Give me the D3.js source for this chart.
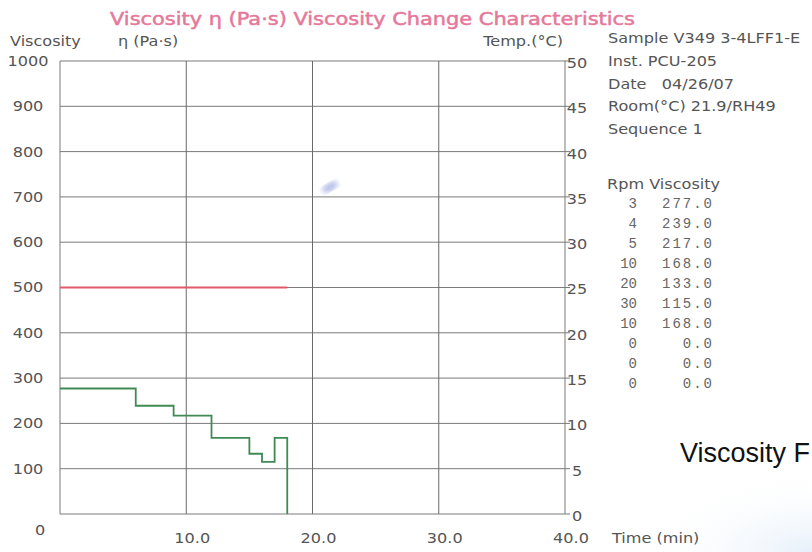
<!DOCTYPE html>
<html>
<head>
<meta charset="utf-8">
<script src="https://cdn.jsdelivr.net/npm/d3@7"></script>
<style>
  html, body { margin: 0; padding: 0; background: #fff; }
  svg { display: block; }
</style>
</head>
<body>
<svg id="chart" width="812" height="552"></svg>
<script>
// ---- data ----
const stepTimes = [0, 6, 9, 12, 15, 16, 17, 18];
const stepViscosity = [277, 239, 217, 168, 133, 115, 168, 0];
const tempTimes = [0, 18];
const tempValues = [25, 25];
const rpmList = [3, 4, 5, 10, 20, 30, 10, 0, 0, 0];
const viscList = [277.0, 239.0, 217.0, 168.0, 133.0, 115.0, 168.0, 0.0, 0.0, 0.0];
const xTicks = [10, 20, 30, 40];
const yTicks = [100, 200, 300, 400, 500, 600, 700, 800, 900, 1000];
const tTicks = [0, 5, 10, 15, 20, 25, 30, 35, 40, 45, 50];
const infoLines = ["Sample V349 3-4LFF1-E", "Inst. PCU-205", "Date   04/26/07", "Room(\u00B0C) 21.9/RH49", "Sequence 1"];

const svg = d3.select("#chart");
const L = 60, R = 565, T = 61, B = 514;
const x = d3.scaleLinear().domain([0, 40]).range([L, R]);
const y = d3.scaleLinear().domain([0, 1000]).range([B, T]);
const yT = d3.scaleLinear().domain([0, 50]).range([B, T]);

const gray = "#7a7a7a";
const textGray = "#555";
const font = "'DejaVu Sans', Verdana, sans-serif";
const SX = 1.15;

function txt(parent, px, py, s, o) {
  o = o || {};
  const g = parent.append("g").attr("transform", `translate(${px},${py}) scale(${o.sx || SX},1)`);
  const t = g.append("text").attr("x", 0).attr("y", 0).attr("dy", "0.35em")
    .attr("text-anchor", o.anchor || "start")
    .attr("font-family", o.family || font)
    .attr("font-size", o.size || 14)
    .attr("font-weight", o.weight || "normal")
    .attr("fill", o.fill || textGray)
    .style("white-space", "pre")
    .text(s);
  if (o.ls) t.attr("letter-spacing", o.ls);
  if (o.len) t.attr("textLength", o.len).attr("lengthAdjust", "spacingAndGlyphs");
  if (o.stroke) t.attr("stroke", o.fill).attr("stroke-width", o.stroke);
  return t;
}

// decorative scan tint
const defs = svg.append("defs");
const rg = defs.append("radialGradient").attr("id", "tint").attr("cx", "1").attr("cy", "1").attr("r", "1");
rg.append("stop").attr("offset", "0").attr("stop-color", "#e6f0fa").attr("stop-opacity", 1);
rg.append("stop").attr("offset", "1").attr("stop-color", "#ffffff").attr("stop-opacity", 0);
svg.append("rect").attr("x", 640).attr("y", 470).attr("width", 172).attr("height", 82).attr("fill", "url(#tint)");
defs.append("filter").attr("id", "blur").append("feGaussianBlur").attr("stdDeviation", 2.5);
svg.append("ellipse").attr("cx", 330).attr("cy", 187).attr("rx", 9).attr("ry", 4)
  .attr("transform", "rotate(-30,330,187)")
  .attr("fill", "#6c7fd0").attr("opacity", 0.5).attr("filter", "url(#blur)");

// grid
const g = svg.append("g");
g.selectAll("line.h").data(yTicks).join("line")
  .attr("x1", L).attr("x2", R + 5)
  .attr("y1", d => y(d)).attr("y2", d => y(d))
  .attr("stroke", gray).attr("stroke-width", 1);
g.selectAll("line.v").data(xTicks.slice(0, 3)).join("line")
  .attr("x1", d => x(d)).attr("x2", d => x(d))
  .attr("y1", T).attr("y2", B)
  .attr("stroke", "#6a6a6a").attr("stroke-width", 1);
g.append("line").attr("x1", L).attr("x2", L).attr("y1", T).attr("y2", B).attr("stroke", gray);
g.append("line").attr("x1", R).attr("x2", R).attr("y1", T).attr("y2", B).attr("stroke", gray);
g.append("line").attr("x1", L).attr("x2", R + 5).attr("y1", B).attr("y2", B).attr("stroke", gray);

// left labels
yTicks.forEach(d => txt(svg, 28, y(d), String(d), { anchor: "middle" }));
txt(svg, 40, 530, "0", { anchor: "middle" });

// right labels
tTicks.forEach(d => txt(svg, 577, yT(d) + 2, String(d), { anchor: "middle" }));

// x labels
xTicks.forEach(d => txt(svg, x(d) + 6, 538, d.toFixed(1), { anchor: "middle" }));
txt(svg, 612, 538, "Time (min)");

// axis titles
txt(svg, 10, 41, "Viscosity");
txt(svg, 118, 41, "\u03B7 (Pa\u00B7s)");
txt(svg, 563, 41, "Temp.(\u00B0C)", { anchor: "end" });

// title
txt(svg, 110, 19, "Viscosity \u03B7 (Pa\u00B7s) Viscosity Change Characteristics",
  { size: 18, fill: "#e5799a", sx: 1, len: 525, stroke: 0.5 });

// info block
infoLines.forEach((s, i) => txt(svg, 608, 38 + i * 22.8, s));

// rpm table
txt(svg, 607, 184, "Rpm Viscosity");
const mono = "'Liberation Mono', 'DejaVu Sans Mono', monospace";
rpmList.forEach((d, i) => txt(svg, 637, 203 + i * 20, String(d),
  { anchor: "end", family: mono, size: 14, sx: 1, fill: "#666" }));
viscList.forEach((d, i) => txt(svg, 714, 203 + i * 20, d.toFixed(1),
  { anchor: "end", family: mono, size: 14, sx: 1, ls: 2, fill: "#666" }));

// lines
const stepData = stepTimes.map((t, i) => [t, stepViscosity[i]]);
svg.append("path").datum(stepData)
  .attr("d", d3.line().x(d => x(d[0])).y(d => y(d[1])).curve(d3.curveStepAfter))
  .attr("fill", "none").attr("stroke", "#3f8a55").attr("stroke-width", 1.8);
const tempData = tempTimes.map((t, i) => [t, tempValues[i]]);
svg.append("path").datum(tempData)
  .attr("d", d3.line().x(d => x(d[0])).y(d => yT(d[1])))
  .attr("fill", "none").attr("stroke", "#e05a6c").attr("stroke-width", 1.8);

// caption
txt(svg, 680, 453, "Viscosity F", { family: "Arial, 'Liberation Sans', sans-serif", size: 27, sx: 1, fill: "#111" });
</script>
</body>
</html>
